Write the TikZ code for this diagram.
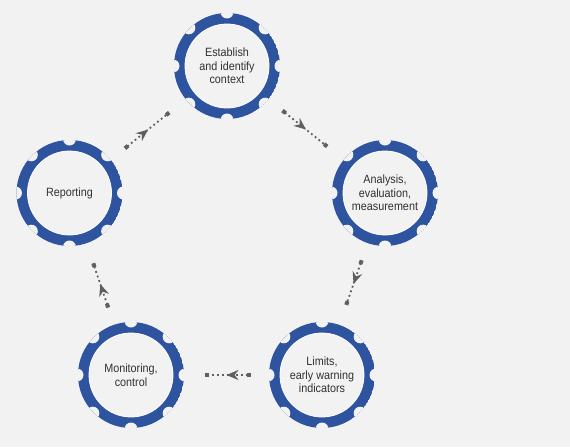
\documentclass[tikz,border=0pt]{standalone}
\usepackage{fontspec}
\setmainfont[FakeStretch=0.9]{Liberation Sans}
\usetikzlibrary{arrows.meta,decorations.markings}
\definecolor{ringblue}{RGB}{46,84,160}
\definecolor{bggray}{RGB}{242,242,242}
\definecolor{textgray}{RGB}{48,48,48}
\definecolor{dotgray}{RGB}{95,95,95}
\begin{document}
\begin{tikzpicture}[x=1pt,y=-1pt,
  gear/.style={circle,minimum size=106pt,inner sep=0pt,align=center,text=textgray,
    font=\fontsize{12}{13.5}\selectfont,
    path picture={
      \fill[ringblue] (path picture bounding box.center) circle (53pt);
      \foreach \a in {0,45,...,315}
        \fill[bggray] ([shift={(\a:54pt)}]path picture bounding box.center) circle (6.5pt);
      \fill[bggray] (path picture bounding box.center) circle (42pt);
      \draw[white,line width=0.8pt] (path picture bounding box.center) circle (42pt);
    }},
  flow/.style={dotgray,line width=1.8pt,dash pattern=on 1.8pt off 3pt,
    shorten <=18pt,shorten >=21pt,
    {Square[length=4pt,width=4pt]}-{Square[length=4pt,width=4pt]},
    postaction={decorate,decoration={markings,
      mark=at position 0.5 with {\arrow{Stealth[length=12pt,width=10pt,inset=4pt]}}}}}]
\fill[bggray] (0,0) rectangle (570,447);
\useasboundingbox (0,0) rectangle (570,447);
\node[gear] (establish) at (227,66) {Establish\\and identify\\context};
\node[gear] (analysis) at (385,193) {Analysis,\\evaluation,\\measurement};
\node[gear] (limits) at (322,375) {Limits,\\early warning\\indicators};
\node[gear] (monitor) at (131,375) {Monitoring,\\control};
\node[gear] (report) at (69.5,193) {Reporting};
\draw[flow] (report) -- (establish);
\draw[flow] (establish) -- (analysis);
\draw[flow] (analysis) -- (limits);
\draw[flow] (limits) -- (monitor);
\draw[flow] (monitor) -- (report);
\end{tikzpicture}
\end{document}
